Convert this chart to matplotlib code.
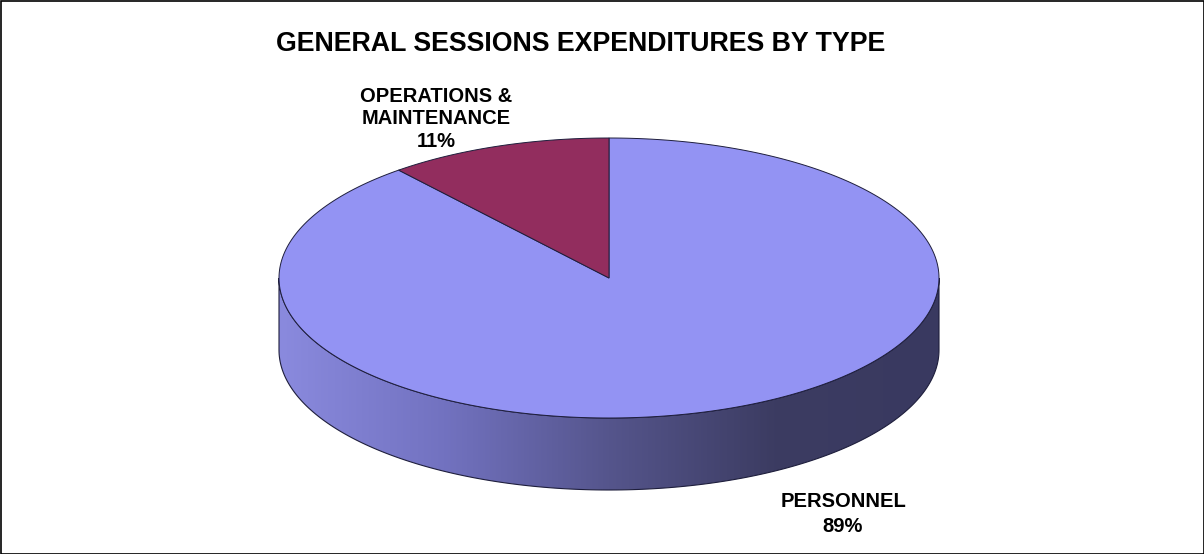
import numpy as np
import matplotlib.pyplot as plt
from matplotlib.patches import Polygon, Rectangle
from matplotlib.colors import LinearSegmentedColormap

# data
categories = ["PERSONNEL", "OPERATIONS &\nMAINTENANCE"]
values = [89, 11]
top_colors = ["#9393F3", "#922D5E"]
title = "GENERAL SESSIONS EXPENDITURES BY TYPE"

plt.rcParams['font.family'] = ['Liberation Sans', 'DejaVu Sans']

fig = plt.figure(figsize=(12.04, 5.54), dpi=100)
ax = fig.add_axes([0, 0, 1, 1])
ax.set_xlim(0, 1204)
ax.set_ylim(554, 0)
ax.axis("off")

# ellipse geometry in pixels
cx, cy, rx, ry, depth = 609, 278, 330, 140, 72

def pt(th):
    th = np.radians(th)
    return cx + rx * np.cos(th), cy - ry * np.sin(th)

# slice angles, clockwise from 12 o'clock
total = sum(values)
angles = [90]
for v in values:
    angles.append(angles[-1] - v / total * 360)

# side wall (front half, personnel colour with shading)
th = np.linspace(180, 360, 200)
xs, ys = pt(th)
side = np.concatenate([np.column_stack([xs, ys]),
                       np.column_stack([xs[::-1], ys[::-1] + depth])])
side_patch = Polygon(side, closed=True, facecolor="none", edgecolor="#1e1e3c", lw=0.8, zorder=3)
ax.add_patch(side_patch)
cmap = LinearSegmentedColormap.from_list("side", ["#8a8ade", "#7272c0", "#55558c", "#3c3c62", "#393960"])
grad = np.linspace(0, 1, 256).reshape(1, -1)
im = ax.imshow(grad, cmap=cmap, extent=[cx - rx, cx + rx, cy + ry + depth, cy - 5],
               aspect="auto", zorder=2)
im.set_clip_path(side_patch)

# top faces
for i in range(len(values)):
    a0, a1 = angles[i], angles[i + 1]
    t = np.linspace(a0, a1, 300)
    px, py = pt(t)
    poly = np.vstack([[cx, cy], np.column_stack([px, py])])
    ax.add_patch(Polygon(poly, closed=True, facecolor=top_colors[i],
                         edgecolor="#1e1e3c", lw=0.7, zorder=4))

# labels
ax.text(843, 514, "%s\n%d%%" % (categories[0], values[0]), ha="center", va="center",
        fontsize=14.5, fontweight="bold", linespacing=1.4)
ax.text(436, 119, "%s\n%d%%" % (categories[1], values[1]), ha="center", va="center",
        fontsize=14.5, fontweight="bold", linespacing=1.22)

ax.text(581, 44, title, ha="center", va="center", fontsize=19.3, fontweight="bold")

# outer border
ax.add_patch(Rectangle((0.5, 0.5), 1203, 553, fill=False, edgecolor="black", lw=1.2, zorder=5))

fig.savefig("out.png", dpi=100)
